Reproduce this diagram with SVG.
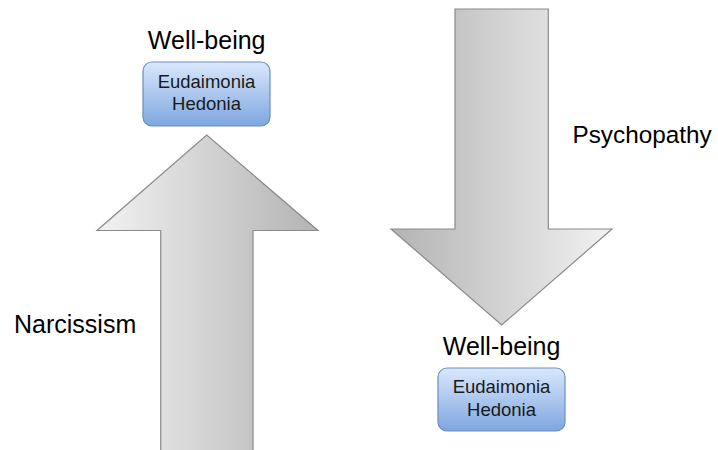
<svg xmlns="http://www.w3.org/2000/svg" width="718" height="450" viewBox="0 0 718 450">
<defs>
<linearGradient id="gUp" x1="0" y1="0" x2="1" y2="0">
<stop offset="0" stop-color="#f2f2f2"/>
<stop offset="1" stop-color="#b3b3b3"/>
</linearGradient>
<linearGradient id="gDown" x1="0" y1="0" x2="1" y2="0">
<stop offset="0" stop-color="#b3b3b3"/>
<stop offset="1" stop-color="#f2f2f2"/>
</linearGradient>
<linearGradient id="gBox" x1="0" y1="0" x2="0" y2="1">
<stop offset="0" stop-color="#dae8fc"/>
<stop offset="1" stop-color="#7ea6e0"/>
</linearGradient>
<style>
.arrow{stroke:#8a8a8a;stroke-width:1.2}
.box{fill:url(#gBox);stroke:#6c8ebf;stroke-width:1.2}
.lbl{font-family:"Liberation Sans",Arial,sans-serif;font-size:25px;fill:#000}
.in{font-family:"Liberation Sans",Arial,sans-serif;font-size:18.5px;fill:#1a1a1a;text-anchor:middle}
</style>
</defs>
<g id="connectors">
<path id="up-arrow" class="arrow" fill="url(#gUp)" d="M160.7,451 L160.7,230.5 L97,230.5 L206.7,135 L318,230.5 L253,230.5 L253,451 Z"/>
<path id="down-arrow" class="arrow" fill="url(#gDown)" d="M455,9 L548.3,9 L548.3,229 L612,229 L501.7,325 L391,229 L455,229 Z"/>
</g>
<g id="top-wellbeing">
<text class="lbl" x="206.7" y="48.5" text-anchor="middle">Well-being</text>
<rect class="box" x="143" y="62" width="127" height="64" rx="9"/>
<text class="in" x="206.5" y="87.5">Eudaimonia</text>
<text class="in" x="206.5" y="110">Hedonia</text>
</g>
<g id="bottom-wellbeing">
<text class="lbl" x="501.6" y="355" text-anchor="middle">Well-being</text>
<rect class="box" x="438" y="368" width="127" height="63" rx="9"/>
<text class="in" x="501.5" y="393">Eudaimonia</text>
<text class="in" x="501.5" y="415.5">Hedonia</text>
</g>
<g id="narcissism">
<text class="lbl" x="14" y="332.5">Narcissism</text>
</g>
<g id="psychopathy">
<text class="lbl" x="572.5" y="143" style="font-size:24.3px">Psychopathy</text>
</g>
</svg>
